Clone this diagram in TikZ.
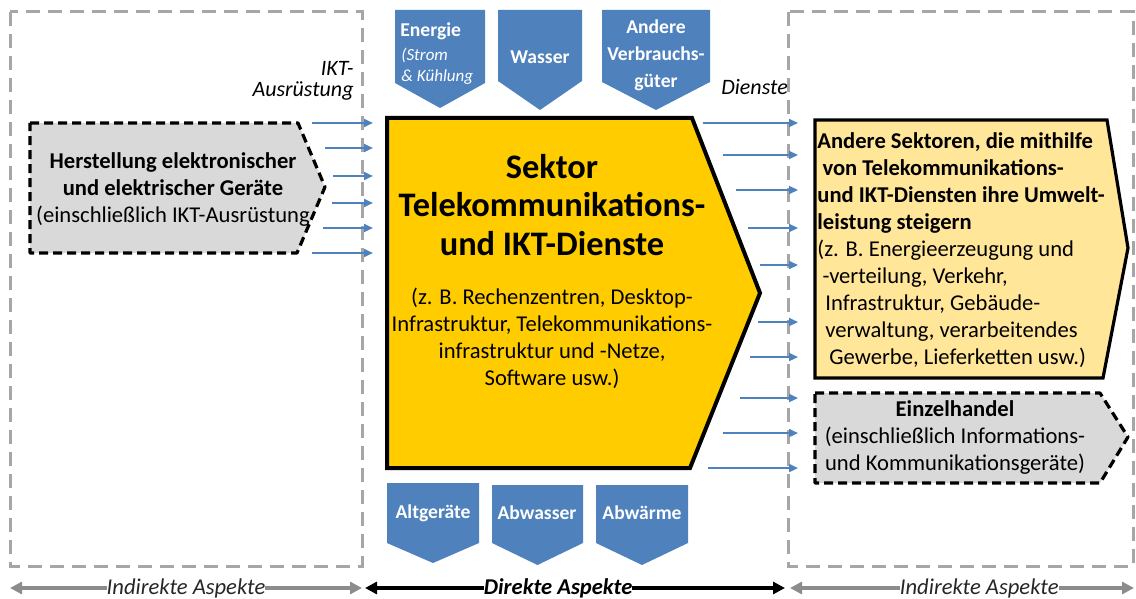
\documentclass[tikz,border=0pt]{standalone}
\usepackage{fontspec}
\setmainfont{Carlito}
\usetikzlibrary{arrows.meta}
\definecolor{sectorgold}{HTML}{FFCC00}
\definecolor{paleyellow}{HTML}{FFE699}
\definecolor{boxgray}{HTML}{D9D9D9}
\definecolor{flowblue}{HTML}{4F81BD}
\definecolor{framegray}{HTML}{A6A6A6}
\definecolor{spangray}{HTML}{8C8C8C}
\begin{document}
\begin{tikzpicture}[x=.5pt,y=-.5pt,every node/.append style={font=\fontsize{11.3}{13.5}\selectfont,inner sep=0pt},
  aspectframe/.style={draw=framegray,line width=1.5pt,dash pattern=on 7pt off 4pt},
  outside/.style={fill=boxgray,draw=black,line width=1.6pt,dash pattern=on 4.5pt off 2.5pt,line join=round},
  flow/.style={draw=flowblue,line width=1.2pt,-{Triangle[length=4.5pt,width=4pt]}},
  span/.style={line width=1.6pt,{Triangle[length=6pt,width=6pt]}-{Triangle[length=6pt,width=6pt]}},
  spanlabel/.style={fill=white,text=black!85,font=\itshape\fontsize{11.3}{13}\selectfont},
  reslabel/.style={text=white,font=\bfseries\fontsize{9.8}{13.5}\selectfont,align=center}]
  \useasboundingbox(0,0)rectangle(1136,599);
  % indirect / direct frames
  \draw[aspectframe](10,12)rectangle(362,566);
  \draw[aspectframe](788,12)rectangle(1133,566);
  % resources in and out
  \foreach \xa/\xb/\ya/\yb/\yc in {395/485/10/83/108,498/582/10/81/110,602/710/10/82/110,
    387/479/483/543/563,492/583/485/543/565,596/688/485/543/565}
    \fill[flowblue](\xa,\ya)--(\xb,\ya)--(\xb,\yb)--({(\xa+\xb)/2},\yc)--(\xa,\yb)--cycle;
  \node[reslabel,anchor=west](energie)at(400,31){Energie};
  \node[text=white,font=\itshape\fontsize{8.5}{10.5}\selectfont,align=left,anchor=west](strom)at(401,66){(Strom\\\& Kühlung};
  \node[reslabel](wasser)at(540,57){Wasser};
  \node[reslabel](verbrauch)at(656,55){Andere\\Verbrauchs-\\güter};
  \node[reslabel](altgeraete)at(433,513){Altgeräte};
  \node[reslabel](abwasser)at(537,513){Abwasser};
  \node[reslabel](abwaerme)at(642,513){Abwärme};
  % sector
  \draw[fill=sectorgold,line width=2pt](387,118)--(692,118)--(760,293)--(690,468)--(387,468)--cycle;
  \node[font=\bfseries\fontsize{17.2}{19.3}\selectfont,align=center](sektor)at(552,205){Sektor\\Telekommunikations-\\und IKT-Dienste};
  \node[align=center](beispiele)at(552,338){(z. B. Rechenzentren, Desktop-\\Infrastruktur, Telekommunikations-\\infrastruktur und -Netze,\\Software usw.)};
  % manufacturing
  \draw[outside](30,123)--(298,123)--(325,187)--(297,253)--(30,253)--cycle;
  \node[align=center](herstellung)at(173,190){\textbf{Herstellung elektronischer}\\\textbf{und elektrischer Geräte}\\(einschließlich IKT-Ausrüstung};
  \node[font=\itshape\fontsize{11}{10.5}\selectfont,align=right,anchor=east](ikt)at(354,81){IKT-\\Ausrüstung};
  \coordinate(endL)at(373,0);
  \foreach \y/\x [count=\i] in {123/312,148/325,176/333,203/332,228/323,253/312}{
    \coordinate(l\i)at(\x,\y);
    \draw[flow](l\i)--(l\i-|endL);
  }
  % other sectors
  \draw[fill=paleyellow,line width=1.6pt](815,120)--(1107,120)--(1128,248)--(1103,378)--(815,378)--cycle;
  \node[align=left,anchor=north west](andere)at(817,132){\textbf{Andere Sektoren, die mithilfe}\\
    \textbf{\ von Telekommunikations-}\\\textbf{und IKT-Diensten ihre Umwelt-}\\\textbf{leistung steigern}\\
    (z. B. Energieerzeugung und\\\ -verteilung, Verkehr,\\\hspace*{4pt}Infrastruktur, Gebäude-\\
    \hspace*{4pt}verwaltung, verarbeitendes\\\hspace*{6pt}Gewerbe, Lieferketten usw.)};
  \draw[outside](815,393)--(1100,393)--(1128,437)--(1100,483)--(815,483)--cycle;
  \node[align=center](handel)at(955,438){\textbf{Einzelhandel}\\(einschließlich Informations-\\und Kommunikationsgeräte)};
  \node[font=\itshape\fontsize{11}{13}\selectfont,anchor=west](dienste)at(721,87){Dienste};
  \coordinate(endR)at(798,0);
  \foreach \y/\x [count=\i] in {123/703,155/723,190/736,228/748,265/760,322/758,357/750,398/740,433/723,468/708}{
    \coordinate(r\i)at(\x,\y);
    \draw[flow](r\i)--(r\i-|endR);
  }
  % aspects
  \coordinate(a1)at(10,588);
  \coordinate(a2)at(362,588);
  \coordinate(a3)at(365,588);
  \coordinate(a4)at(785,588);
  \coordinate(a5)at(790,588);
  \coordinate(a6)at(1134,588);
  \draw[span,spangray](a1)--node[spanlabel](indl){Indirekte Aspekte}(a2);
  \draw[span,black](a3)--node[pos=.46,spanlabel,text=black,font=\bfseries\itshape\fontsize{11.3}{13}\selectfont](direkt){Direkte Aspekte}(a4);
  \draw[span,spangray](a5)--node[pos=.55,spanlabel](indr){Indirekte Aspekte}(a6);
\end{tikzpicture}
\end{document}
